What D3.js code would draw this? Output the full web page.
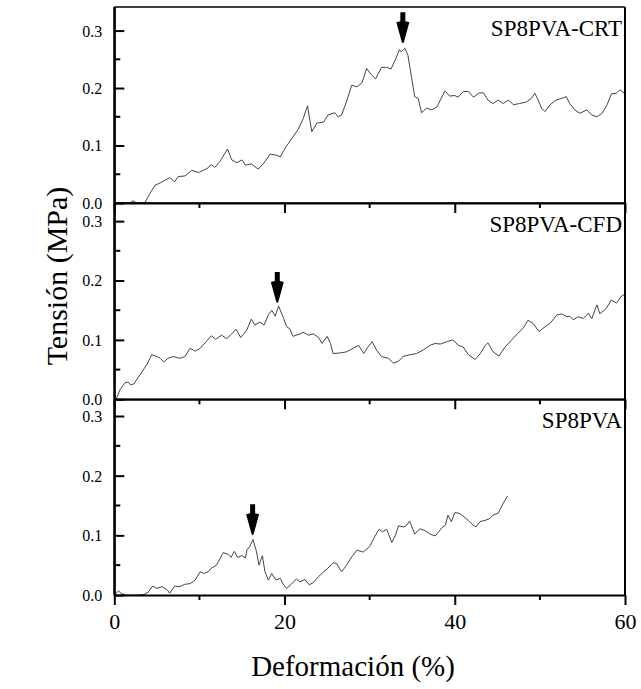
<!DOCTYPE html>
<html>
<head>
<meta charset="utf-8">
<script src="https://cdn.jsdelivr.net/npm/d3@7"></script>
<style>
  body { margin: 0; background: #fff; }
  svg text { font-family: 'Liberation Serif', 'Times New Roman', Tinos, 'DejaVu Serif', serif; fill: #000; }
</style>
</head>
<body>
<svg id="chart" width="641" height="689"></svg>
<script>
// strain (%) / stress (MPa) pairs
var crt = [[0,0],[1.8,0],[2.2,0.004],[2.6,0],[3.6,0.001],[4.2,0.017],[4.8,0.031],[5.4,0.035],[6.5,0.044],
  [7.1,0.037],[7.5,0.046],[8.3,0.047],[9.1,0.057],[9.9,0.053],[10.9,0.06],[11.4,0.067],[11.8,0.062],
  [12.4,0.072],[13.3,0.094],[13.8,0.075],[14.4,0.07],[15,0.075],[15.4,0.066],[16.1,0.068],[16.9,0.059],
  [17.5,0.068],[18.3,0.085],[19.1,0.083],[19.5,0.08],[20.05,0.095],[20.8,0.111],[21.6,0.128],[22.2,0.147],
  [22.7,0.169],[23.2,0.124],[23.8,0.139],[24.6,0.141],[25.1,0.153],[25.9,0.157],[26.3,0.15],[26.7,0.153],
  [27.3,0.177],[27.9,0.205],[28.5,0.202],[29.1,0.209],[29.65,0.234],[30.2,0.223],[30.7,0.216],[31.4,0.236],
  [32,0.236],[32.5,0.233],[33.1,0.252],[33.5,0.267],[33.7,0.263],[34.15,0.269],[34.5,0.257],[34.9,0.22],
  [35.3,0.185],[35.7,0.182],[36.1,0.157],[36.7,0.165],[37.3,0.162],[37.9,0.167],[38.3,0.179],[38.85,0.195],
  [39.4,0.186],[40,0.187],[40.4,0.184],[41,0.194],[41.6,0.194],[42.2,0.184],[42.8,0.191],[43.35,0.192],
  [43.9,0.179],[44.5,0.173],[45.1,0.179],[45.7,0.173],[46.3,0.179],[46.9,0.171],[47.6,0.173],[48.45,0.176],
  [49,0.182],[49.4,0.191],[49.8,0.179],[50.2,0.165],[50.6,0.159],[51.2,0.171],[51.9,0.179],[52.75,0.183],
  [53.1,0.185],[53.5,0.173],[54.1,0.162],[54.7,0.156],[55.5,0.162],[56.1,0.153],[56.7,0.15],[57.3,0.156],
  [57.9,0.171],[58.4,0.19],[59,0.191],[59.4,0.197],[60,0.19]];

var cfd = [[0.2,0],[0.67,0.016],[1.26,0.028],[1.65,0.029],[1.9,0.024],[2.3,0.026],[3,0.041],[3.8,0.058],
  [4.4,0.075],[5,0.072],[5.4,0.069],[5.8,0.063],[6.3,0.069],[6.9,0.072],[7.7,0.069],[8.3,0.072],[8.9,0.086],
  [9.5,0.081],[10.1,0.086],[10.8,0.097],[11.4,0.107],[11.9,0.101],[12.6,0.108],[13.2,0.102],[13.8,0.11],
  [14.3,0.118],[14.85,0.104],[15.55,0.116],[16.1,0.135],[16.5,0.125],[17.1,0.13],[17.6,0.125],[18.1,0.142],
  [18.5,0.15],[18.9,0.14],[19.3,0.157],[19.9,0.136],[20.25,0.122],[20.6,0.119],[21,0.106],[21.8,0.11],
  [22.2,0.113],[22.8,0.108],[23.4,0.11],[24,0.104],[24.4,0.094],[25,0.106],[25.4,0.094],[25.7,0.077],
  [26.5,0.078],[27.3,0.08],[28.1,0.086],[28.7,0.091],[29.3,0.077],[29.8,0.088],[30.3,0.097],[30.8,0.083],
  [31.4,0.072],[32.2,0.069],[32.8,0.061],[33.4,0.064],[33.9,0.072],[34.7,0.075],[35.5,0.077],[36.3,0.083],
  [37.1,0.091],[37.7,0.094],[38.3,0.093],[39.05,0.097],[39.8,0.1],[40.4,0.091],[41,0.088],[41.6,0.075],
  [42.4,0.067],[43,0.077],[43.6,0.091],[43.9,0.095],[44.5,0.08],[45.2,0.073],[45.9,0.088],[46.7,0.1],
  [47.4,0.111],[48.05,0.12],[48.6,0.133],[49.2,0.128],[49.9,0.114],[50.6,0.122],[51.2,0.128],[52,0.142],
  [52.55,0.144],[53.15,0.139],[53.5,0.14],[53.9,0.134],[54.5,0.139],[55.1,0.136],[55.7,0.145],[56.1,0.136],
  [56.7,0.159],[57.05,0.144],[57.8,0.153],[58.4,0.167],[59,0.162],[59.6,0.174],[60,0.177]];

var pva = [[0,0],[0.5,0.007],[0.85,0.002],[1.4,0],[2.8,0],[3.5,0.001],[4,0.005],[4.5,0.015],[5,0.011],
  [5.6,0.014],[6.2,0.009],[6.5,0.003],[7.1,0.015],[7.7,0.014],[8.3,0.018],[8.9,0.019],[9.5,0.025],
  [10.1,0.039],[10.5,0.036],[11.05,0.039],[11.4,0.045],[12,0.05],[12.8,0.071],[13.4,0.068],[13.7,0.063],
  [14.1,0.073],[14.5,0.063],[15,0.066],[15.4,0.062],[15.6,0.076],[15.9,0.081],[16.3,0.093],[16.7,0.073],
  [17,0.05],[17.4,0.066],[17.7,0.039],[18.1,0.025],[18.5,0.036],[19,0.025],[19.5,0.028],[19.8,0.019],
  [20.25,0.011],[20.8,0.018],[21.4,0.027],[21.8,0.022],[22.4,0.026],[22.9,0.017],[23.4,0.021],[24,0.031],
  [24.55,0.038],[25.1,0.045],[25.7,0.054],[26.1,0.053],[26.7,0.039],[27.3,0.05],[27.9,0.064],[28.5,0.075],
  [29.25,0.072],[30,0.081],[30.6,0.098],[31.1,0.11],[31.5,0.106],[32,0.11],[32.6,0.088],[33,0.099],
  [33.4,0.116],[34,0.114],[34.35,0.117],[34.7,0.124],[35.3,0.102],[35.9,0.111],[36.5,0.108],[37.1,0.102],
  [37.7,0.099],[38.1,0.106],[38.5,0.113],[38.9,0.117],[39.2,0.134],[39.6,0.123],[40,0.138],[40.5,0.137],
  [41,0.132],[41.6,0.125],[42,0.119],[42.5,0.114],[42.96,0.123],[43.55,0.125],[44.1,0.128],[44.5,0.134],
  [45.1,0.137],[45.7,0.154],[46.2,0.166]];

var panelNames = ['SP8PVA-CRT', 'SP8PVA-CFD', 'SP8PVA'];
var panelSeries = [crt, cfd, pva];
var panelYMax = [0.341, 0.3305, 0.328];
var arrowX = [33.9, 19.15, 16.25];      // strain where the arrow points
var arrowTip = [0.278, 0.162, 0.10];     // stress at the arrow tip
var xTicks = [0, 20, 40, 60];
var xMinor = [10, 30, 50];
var yTicks = [0, 0.1, 0.2, 0.3];
var yMinor = [0.05, 0.15, 0.25];

var serif = "'Liberation Serif', 'Times New Roman', Tinos, 'DejaVu Serif', serif";
var left = 114.3, right = 625;
var tops = [7, 203, 399.3], bottoms = [203, 399.3, 595];

var svg = d3.select('#chart');
var x = d3.scaleLinear().domain([0, 60]).range([left, right]);

panelSeries.forEach(function (data, i) {
    var y = d3.scaleLinear().domain([0, panelYMax[i]]).range([bottoms[i], tops[i]]);
    var g = svg.append('g');

    var line = d3.line()
      .x(function (d) { return x(d[0]); })
      .y(function (d) { return y(d[1]); });

    g.append('path')
      .datum(data)
      .attr('fill', 'none')
      .attr('stroke', '#444')
      .attr('stroke-width', 1)
      .attr('d', line);

    // frame: left axis, right edge, top edge
    g.append('line').attr('x1', left).attr('x2', left).attr('y1', tops[i]).attr('y2', bottoms[i])
      .attr('stroke', '#000').attr('stroke-width', 2);
    g.append('line').attr('x1', right).attr('x2', right).attr('y1', tops[i]).attr('y2', bottoms[i])
      .attr('stroke', '#000').attr('stroke-width', 2);
    g.append('line').attr('x1', left).attr('x2', right).attr('y1', tops[i]).attr('y2', tops[i])
      .attr('stroke', '#000').attr('stroke-width', 1.6);

    // bottom axis, ticks pointing down
    var xa = g.append('g').attr('transform', 'translate(0,' + bottoms[i] + ')')
      .call(d3.axisBottom(x).tickValues(xTicks).tickSize(10).tickSizeOuter(0)
        .tickFormat(i === 2 ? d3.format('d') : ''));
    xa.attr('font-family', serif);
    xa.selectAll('.tick text').attr('font-size', 22).attr('dy', '0.95em');
    xa.append('g').selectAll('line').data(xMinor).enter().append('line')
      .attr('x1', function (d) { return x(d); }).attr('x2', function (d) { return x(d); })
      .attr('y1', 0).attr('y2', 5).attr('stroke', '#000').attr('stroke-width', 2);

    // left axis, ticks pointing in
    var ya = g.append('g').attr('transform', 'translate(' + left + ',0)')
      .call(d3.axisRight(y).tickValues(yTicks).tickSize(10).tickSizeOuter(0).tickFormat(d3.format('.1f')));
    ya.attr('font-family', serif);
    ya.selectAll('.tick text').attr('x', -12).attr('text-anchor', 'end').attr('font-size', 16)
      .attr('dy', '0.34em');
    ya.append('g').selectAll('line').data(yMinor).enter().append('line')
      .attr('x1', 0).attr('x2', 6)
      .attr('y1', function (d) { return y(d); }).attr('y2', function (d) { return y(d); })
      .attr('stroke', '#000').attr('stroke-width', 2);

    [xa, ya].forEach(function (a) {
        a.select('.domain').attr('stroke', '#000').attr('stroke-width', 2);
        a.selectAll('.tick line').attr('stroke', '#000').attr('stroke-width', 2);
    });

    g.append('text')
      .attr('x', 622).attr('y', tops[i] + 28.5)
      .attr('text-anchor', 'end')
      .attr('font-family', serif)
      .attr('font-size', 23)
      .text(panelNames[i]);

    // downward arrow marking the peak
    var ax = x(arrowX[i]), ay = y(arrowTip[i]);
    g.append('path')
      .attr('d', 'M' + (ax - 2.5) + ',' + (ay - 31) + 'L' + (ax + 2.5) + ',' + (ay - 31) +
        'L' + (ax + 2.5) + ',' + (ay - 22) + 'L' + (ax + 6.5) + ',' + (ay - 21) +
        'L' + (ax + 1) + ',' + (ay - 1) + 'L' + ax + ',' + ay + 'L' + (ax - 1) + ',' + (ay - 1) +
        'L' + (ax - 6.5) + ',' + (ay - 21) + 'L' + (ax - 2.5) + ',' + (ay - 22) + 'Z')
      .attr('fill', '#000');
});

svg.append('text')
  .attr('transform', 'translate(67,276) rotate(-90)')
  .attr('text-anchor', 'middle')
  .attr('font-family', serif)
  .attr('font-size', 30)
  .text('Tensión (MPa)');

svg.append('text')
  .attr('x', 353).attr('y', 676)
  .attr('text-anchor', 'middle')
  .attr('font-family', serif)
  .attr('font-size', 29)
  .text('Deformación (%)');
</script>
</body>
</html>
